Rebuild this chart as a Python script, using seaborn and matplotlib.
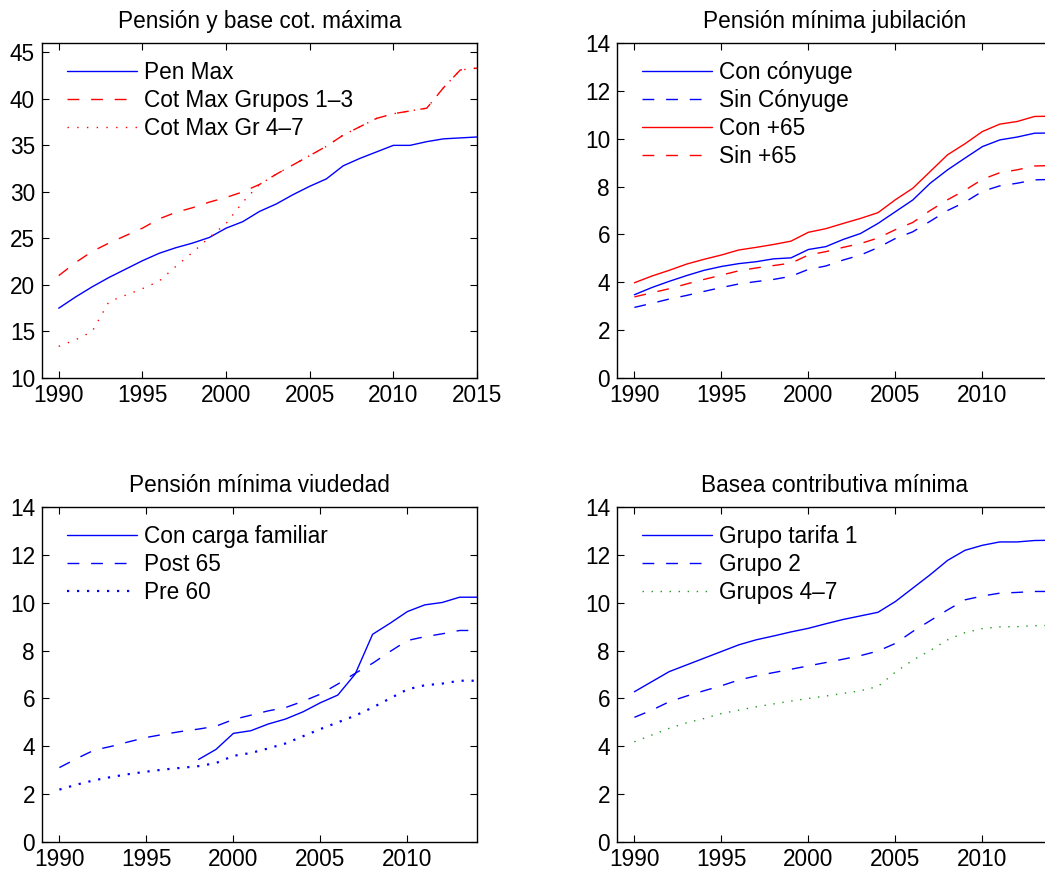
import numpy as np
import pandas as pd
import seaborn as sns
import matplotlib
matplotlib.use("Agg")
import matplotlib.pyplot as plt

# ---------------- data ----------------
years_a = list(range(1990, 2016))   # panel 1 (1990-2015)
years_b = list(range(1990, 2015))   # panels 2-4 (1990-2014)

pen_max = [17.5, 18.7, 19.8, 20.8, 21.7, 22.6, 23.4, 24.0, 24.5, 25.1,
           26.1, 26.8, 27.9, 28.7, 29.7, 30.6, 31.4, 32.8, 33.6, 34.3,
           35.0, 35.0, 35.4, 35.7, 35.8, 35.9]
cot_max_1_3 = [21.0, 22.4, 23.6, 24.5, 25.3, 26.1, 27.1, 27.8, 28.3, 28.9,
               29.4, 30.0, 30.8, 31.9, 32.9, 33.9, 34.9, 36.1, 37.0, 37.9,
               38.4, 38.7, 39.0, 41.2, 43.1, 43.3]
cot_max_4_7 = [13.4, 14.1, 15.0, 18.2, 18.9, 19.6, 20.4, 22.0, 23.5, 25.1,
               26.6, 28.9, 30.8, 31.9, 32.9, 33.9, 34.9, 36.1, 37.0, 37.9,
               38.4, 38.7, 39.0, 41.2, 43.1, 43.3]

con_conyuge = [3.48, 3.78, 4.04, 4.28, 4.50, 4.66, 4.78, 4.86, 4.98, 5.02,
               5.37, 5.49, 5.79, 6.04, 6.46, 6.95, 7.44, 8.14, 8.70, 9.19,
               9.67, 9.95, 10.07, 10.23, 10.24]
sin_conyuge = [2.95, 3.12, 3.30, 3.45, 3.62, 3.78, 3.93, 4.03, 4.12, 4.25,
               4.54, 4.68, 4.93, 5.14, 5.45, 5.83, 6.11, 6.55, 7.00, 7.35,
               7.80, 8.03, 8.14, 8.28, 8.30]
con_65 = [3.98, 4.26, 4.50, 4.76, 4.96, 5.14, 5.35, 5.46, 5.58, 5.72,
          6.09, 6.24, 6.46, 6.67, 6.91, 7.45, 7.93, 8.63, 9.33, 9.79,
          10.30, 10.61, 10.72, 10.93, 10.94]
sin_65 = [3.39, 3.56, 3.73, 3.93, 4.12, 4.30, 4.48, 4.60, 4.70, 4.80,
          5.14, 5.28, 5.46, 5.62, 5.85, 6.20, 6.50, 7.00, 7.45, 7.85,
          8.30, 8.58, 8.70, 8.86, 8.88]

carga_familiar = [np.nan] * 8 + [3.45, 3.87, 4.54, 4.65, 4.93, 5.14, 5.44,
                                 5.82, 6.14, 7.02, 8.68, 9.14, 9.63, 9.91,
                                 10.01, 10.23, 10.23]
post_65 = [3.11, 3.49, 3.84, 4.00, 4.19, 4.37, 4.50, 4.62, 4.72, 4.84,
           5.12, 5.30, 5.48, 5.62, 5.88, 6.18, 6.60, 7.05, 7.47, 7.96,
           8.42, 8.58, 8.70, 8.84, 8.84]
pre_60 = [2.19, 2.40, 2.58, 2.72, 2.84, 2.94, 3.03, 3.10, 3.17, 3.30,
          3.60, 3.72, 3.91, 4.12, 4.42, 4.72, 5.00, 5.28, 5.62, 6.00,
          6.38, 6.55, 6.62, 6.74, 6.74]

grupo_tarifa_1 = [6.28, 6.70, 7.12, 7.40, 7.68, 7.96, 8.24, 8.45, 8.61, 8.78,
                  8.93, 9.12, 9.30, 9.45, 9.60, 10.05, 10.61, 11.17, 11.77,
                  12.19, 12.40, 12.54, 12.54, 12.60, 12.61]
grupo_2 = [5.21, 5.51, 5.86, 6.10, 6.32, 6.53, 6.77, 6.94, 7.08, 7.22,
           7.36, 7.50, 7.64, 7.79, 7.98, 8.30, 8.80, 9.25, 9.70, 10.12,
           10.28, 10.40, 10.43, 10.47, 10.47]
grupos_4_7 = [4.19, 4.47, 4.75, 4.98, 5.16, 5.37, 5.51, 5.65, 5.77, 5.89,
              6.00, 6.10, 6.21, 6.32, 6.50, 7.10, 7.60, 8.00, 8.45, 8.75,
              8.92, 8.99, 9.00, 9.04, 9.05]

titles = ["Pensión y base cot. máxima", "Pensión mínima jubilación",
          "Pensión mínima viudedad", "Basea contributiva mínima"]

# ---------------- style ----------------
sns.set_theme(style="white")
plt.rcParams.update({
    "font.family": ["Liberation Sans", "DejaVu Sans"],
    "axes.edgecolor": "black",
    "axes.linewidth": 1.0,
    "text.color": "black",
    "xtick.color": "black",
    "ytick.color": "black",
    "xtick.direction": "in",
    "ytick.direction": "in",
    "xtick.top": True,
    "ytick.right": True,
    "xtick.major.size": 5,
    "ytick.major.size": 5,
    "xtick.major.width": 0.8,
    "ytick.major.width": 0.8,
    "xtick.bottom": True,
    "ytick.left": True,
})

FS = 16.3
BLUE = "#0000ff"
RED = "#ff0000"
GREEN = "#1f991f"
SOLID = "-"
DASHED = (0, (8.5, 8.5))
DOTTED = (0, (1, 6))

fig = plt.figure(figsize=(10.45, 8.76), dpi=100)
W, H = 1045, 876
ax_w, ax_h = 435, 335


def make_axes(left_px, top_px):
    return fig.add_axes([left_px / W, 1 - (top_px + ax_h) / H, ax_w / W, ax_h / H])


axes = [make_axes(42, 43), make_axes(617, 43),
        make_axes(42, 507), make_axes(617, 507)]


def draw(ax, x, y, label, color, ls, lw=1.0):
    df = pd.DataFrame({"year": x, "value": y})
    sns.lineplot(data=df, x="year", y="value", ax=ax, color=color,
                 linestyle=ls, linewidth=lw, label=label)


# panel 1
ax = axes[0]
draw(ax, years_a, pen_max, "Pen Max", BLUE, SOLID)
draw(ax, years_a, cot_max_1_3, "Cot Max Grupos 1–3", RED, DASHED)
draw(ax, years_a, cot_max_4_7, "Cot Max Gr 4–7", RED, DOTTED)
ax.set_xlim(1989, 2015)
ax.set_ylim(10, 46)
ax.set_xticks(range(1990, 2016, 5))
ax.set_yticks(range(10, 46, 5))

# panel 2
ax = axes[1]
draw(ax, years_b, con_conyuge, "Con cónyuge", BLUE, SOLID)
draw(ax, years_b, sin_conyuge, "Sin Cónyuge", BLUE, DASHED)
draw(ax, years_b, con_65, "Con +65", RED, SOLID)
draw(ax, years_b, sin_65, "Sin +65", RED, DASHED)

# panel 3
ax = axes[2]
draw(ax, years_b, carga_familiar, "Con carga familiar", BLUE, SOLID)
draw(ax, years_b, post_65, "Post 65", BLUE, DASHED)
draw(ax, years_b, pre_60, "Pre 60", BLUE, (0, (1, 3.5)), lw=1.6)

# panel 4
ax = axes[3]
draw(ax, years_b, grupo_tarifa_1, "Grupo tarifa 1", BLUE, SOLID)
draw(ax, years_b, grupo_2, "Grupo 2", BLUE, DASHED)
draw(ax, years_b, grupos_4_7, "Grupos 4–7", GREEN, (0, (1, 5.5)))

for ax in axes[1:]:
    ax.set_xlim(1989, 2014)
    ax.set_ylim(0, 14)
    ax.set_xticks(range(1990, 2015, 5))
    ax.set_yticks(range(0, 15, 2))

for ax, title in zip(axes, titles):
    ax.set_title(title, fontsize=FS, pad=11)
    ax.set_xlabel("")
    ax.set_ylabel("")
    ax.tick_params(axis="both", labelsize=FS)
    ax.tick_params(axis="x", pad=4.5)
    ax.tick_params(axis="y", pad=5.0)
    for s in ax.spines.values():
        s.set_visible(True)
        s.set_color("black")
    ax.legend(loc="upper left", bbox_to_anchor=(25 / ax_w, 1 - 18 / ax_h),
              frameon=False, fontsize=FS, handlelength=3.1,
              handletextpad=0.3, labelspacing=0.22, borderpad=0,
              borderaxespad=0)

fig.savefig("out.png", dpi=100)
